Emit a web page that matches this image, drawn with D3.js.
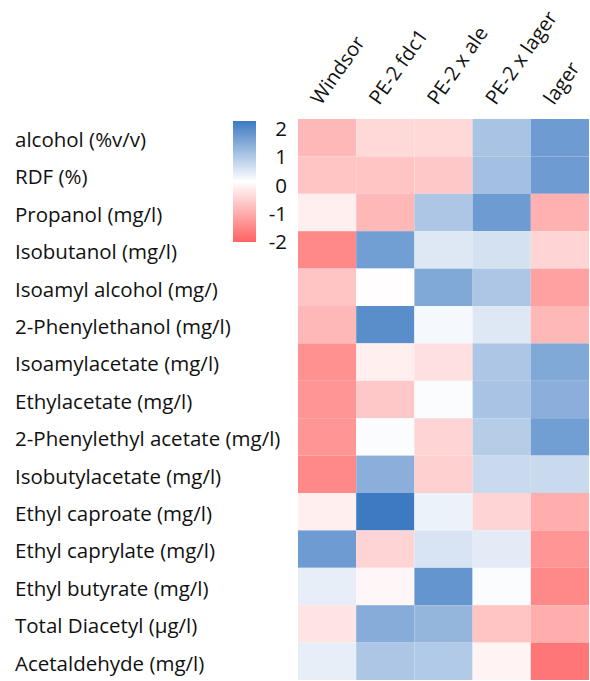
<!DOCTYPE html>
<html>
<head>
<meta charset="utf-8">
<script src="https://cdn.jsdelivr.net/npm/d3@7"></script>
<style>
  body { margin: 0; background: #fff; }
  text { font-family: "Open Sans", "Lato", sans-serif; fill: #111; }
</style>
</head>
<body>
<div id="chart"></div>
<script>
const samples = ["Windsor", "PE-2 fdc1", "PE-2 x ale", "PE-2 x lager", "lager"];
const compounds = [
  "alcohol (%v/v)", "RDF (%)", "Propanol (mg/l)", "Isobutanol (mg/l)",
  "Isoamyl alcohol (mg/)", "2-Phenylethanol (mg/l)", "Isoamylacetate (mg/l)",
  "Ethylacetate (mg/l)", "2-Phenylethyl acetate (mg/l)", "Isobutylacetate (mg/l)",
  "Ethyl caproate (mg/l)", "Ethyl caprylate (mg/l)", "Ethyl butyrate (mg/l)",
  "Total Diacetyl (µg/l)", "Acetaldehyde (mg/l)"
];
// z-scores, one row per compound, columns in samples order
const zscores = [
  [-0.9, -0.5, -0.5, 0.9, 1.5],
  [-0.75, -0.75, -0.7, 0.95, 1.5],
  [-0.2, -0.9, 0.85, 1.5, -1.0],
  [-1.5, 1.45, 0.35, 0.45, -0.55],
  [-0.75, -0.03, 1.3, 0.85, -1.2],
  [-0.9, 1.7, 0.1, 0.35, -0.9],
  [-1.4, -0.2, -0.4, 0.85, 1.3],
  [-1.35, -0.7, 0.05, 0.9, 1.2],
  [-1.35, 0.05, -0.55, 0.75, 1.45],
  [-1.5, 1.2, -0.6, 0.55, 0.55],
  [-0.2, 2.0, 0.2, -0.55, -1.05],
  [1.5, -0.55, 0.4, 0.3, -1.35],
  [0.25, -0.1, 1.6, 0.05, -1.5],
  [-0.35, 1.25, 1.1, -0.75, -1.05],
  [0.25, 0.85, 0.8, -0.15, -1.75]
];
const legendTicks = [2, 1, 0, -1, -2];

const width = 590, height = 681;
const grid = { left: 298, top: 119, right: 589, bottom: 680 };

const svg = d3.select("#chart").append("svg")
  .attr("width", width).attr("height", height);

const x = d3.scaleBand().domain(samples).range([grid.left, grid.right]);
const y = d3.scaleBand().domain(compounds).range([grid.top, grid.bottom]);
const color = d3.scaleLinear().domain([-2, 0, 2])
  .range(["#ff6262", "#ffffff", "#3d7ac2"]).clamp(true);

const cells = [];
compounds.forEach((c, i) => samples.forEach((s, j) =>
  cells.push({ c, s, v: zscores[i][j] })));

svg.append("g").selectAll("rect").data(cells).join("rect")
  .attr("x", d => x(d.s))
  .attr("y", d => y(d.c))
  .attr("width", x.bandwidth())
  .attr("height", y.bandwidth())
  .attr("fill", d => color(d.v));

// row labels
svg.append("g").selectAll("text").data(compounds).join("text")
  .attr("x", 15)
  .attr("y", d => y(d) + y.bandwidth() / 2)
  .attr("dy", "0.45em")
  .style("font-size", "20.5px")
  .text(d => d);

// column labels
svg.append("g").selectAll("text").data(samples).join("text")
  .attr("transform", d => `translate(${x(d) + x.bandwidth() / 2 - 6},106) rotate(-55)`)
  .style("font-size", "20px")
  .text(d => d);

// legend
const lg = { x: 233, y: 121, w: 23, h: 121 };
const defs = svg.append("defs");
const grad = defs.append("linearGradient").attr("id", "lgrad")
  .attr("x1", 0).attr("y1", 1).attr("x2", 0).attr("y2", 0);
d3.range(-2, 2.01, 0.5).forEach(v => grad.append("stop")
  .attr("offset", (v + 2) / 4).attr("stop-color", color(v)));
svg.append("rect").attr("x", lg.x).attr("y", lg.y)
  .attr("width", lg.w).attr("height", lg.h).attr("fill", "url(#lgrad)");

const ly = d3.scaleLinear().domain([2, -2]).range([lg.y + 8, lg.y + lg.h]);
svg.append("g").selectAll("text").data(legendTicks).join("text")
  .attr("x", 287)
  .attr("y", d => ly(d))
  .attr("dy", "0.35em")
  .attr("text-anchor", "end")
  .style("font-size", "20.5px")
  .text(d => d);
</script>
</body>
</html>
